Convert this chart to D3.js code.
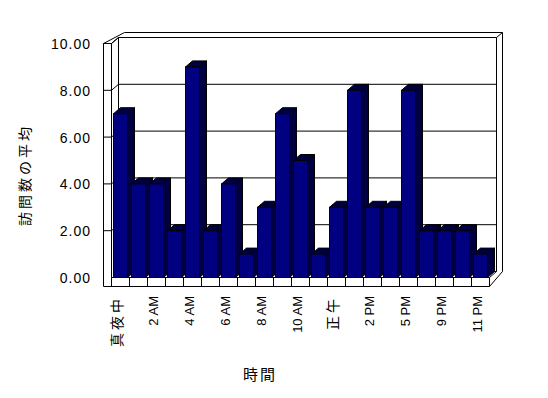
<!DOCTYPE html>
<html>
<head>
<meta charset="utf-8">
<script src="https://cdn.jsdelivr.net/npm/d3@7"></script>
<style>
  body { margin: 0; background: #fff; }
  text { font-family: "Liberation Sans", Arial, "Noto Sans CJK JP", sans-serif; fill: #000; }
  .frame { fill: none; stroke: #000; stroke-width: 1; }
</style>
</head>
<body>
<div id="chart"></div>
<script>
// hourly categories (one hour has no data, so it is missing)
const hours = ["真夜中", "1 AM", "2 AM", "3 AM", "4 AM", "5 AM", "6 AM", "7 AM",
  "8 AM", "9 AM", "10 AM", "11 AM", "正午", "1 PM", "2 PM", "3 PM", "5 PM",
  "7 PM", "9 PM", "10 PM", "11 PM"];
const visits = [7, 4, 4, 2, 9, 2, 4, 1, 3, 7, 5, 1, 3, 8, 3, 3, 8, 2, 2, 2, 1];
const yTicks = [0, 2, 4, 6, 8, 10];
const yTitle = "訪問数の平均";
const xTitle = "時間";

const width = 548, height = 398;
const dx = 7, dy = -6;      // depth of the 3d box
const wall = 8;             // thickness of the side wall

const x = d3.scaleBand().domain(hours).range([111, 489]);
const y = d3.scaleLinear().domain([0, 10]).range([277, 43]);

const svg = d3.select("#chart").append("svg")
  .attr("width", width)
  .attr("height", height);

// dithered dark fill for the bar sides
const pat = svg.append("defs").append("pattern")
  .attr("id", "dither")
  .attr("patternUnits", "userSpaceOnUse")
  .attr("width", 2).attr("height", 2);
pat.append("rect").attr("width", 2).attr("height", 2).attr("fill", "#000080");
pat.append("rect").attr("width", 1).attr("height", 1).attr("fill", "#000");
pat.append("rect").attr("x", 1).attr("y", 1).attr("width", 1).attr("height", 1).attr("fill", "#000");

const x0 = x.range()[0], x1 = x.range()[1];
const yb = y(0), yt = y(10);
const line = d3.line();
const frame = svg.append("g").attr("class", "frame").attr("transform", "translate(0.5,0.5)");

// outer silhouette of walls and floor
frame.append("path").attr("d", line([
  [x0 - wall, yt], [x0 + 2 * dx - 1, yt + 2 * dy + 1], [x1 + 2 * dx - 1, yt + 2 * dy + 1],
  [x1 + 2 * dx - 1, yb + dy - 2 + 2], [x1, yb + 9], [x0 - wall, yb + 9], [x0 - wall, yt]
]));
// side wall front face and top
frame.append("path").attr("d", line([[x0, yb], [x0, yt], [x0 - wall, yt]]));
frame.append("path").attr("d", line([[x0, yt], [x0 + dx, yt + dy]]));
// back wall inner face
frame.append("path").attr("d", line([
  [x0 + dx, yb + dy], [x0 + dx, yt + dy], [x1 + dx, yt + dy], [x1 + dx, yb + dy]
]));
frame.append("path").attr("d", line([[x1 + dx, yt + dy], [x1 + 2 * dx - 1, yt + 2 * dy + 1]]));
// floor
frame.append("path").attr("d", line([[x0, yb], [x1, yb], [x1 + dx, yb + dy]]));
frame.append("path").attr("d", line([[x0 + dx, yb + dy], [x1 + dx, yb + dy]]));
frame.append("path").attr("d", line([[x1, yb], [x1, yb + 9]]));

// category dividers on the floor front
frame.selectAll(".div")
  .data(hours)
  .join("path")
  .attr("d", d => line([[x(d), yb], [x(d), yb + 9]]));

// gridlines: back wall, side wall and ticks on its front face
const grid = yTicks.filter(v => v > 0);
frame.selectAll(".grid")
  .data(grid)
  .join("path")
  .attr("d", v => line([
    [x0 - wall, y(v)], [x0, y(v)], [x0 + dx, y(v) + dy], [x1 + dx, y(v) + dy]
  ]));

// bars, drawn left to right so each covers its neighbour's side
const bars = svg.append("g").attr("transform", "translate(0.5,0.5)");
hours.forEach((h, i) => {
  const v = visits[i];
  const bx0 = x(h) + 2, bx1 = x(h) + 16, by = y(v);
  const g = bars.append("g").attr("stroke", "#000").attr("stroke-width", 1);
  g.append("path")
    .attr("fill", "url(#dither)")
    .attr("d", line([[bx1, by], [bx1 + dx, by + dy], [bx1 + dx, yb + dy], [bx1, yb]]) + "Z");
  g.append("path")
    .attr("fill", "url(#dither)")
    .attr("d", line([[bx0, by], [bx0 + dx, by + dy], [bx1 + dx, by + dy], [bx1, by]]) + "Z");
  g.append("rect")
    .attr("fill", "#000080")
    .attr("x", bx0).attr("y", by)
    .attr("width", bx1 - bx0).attr("height", yb - by);
});

// y axis labels
const yAxis = d3.axisLeft(y)
  .tickValues(yTicks)
  .tickFormat(d3.format(".2f"))
  .tickSize(0)
  .tickPadding(12);
svg.append("g")
  .attr("transform", "translate(" + (x0 - wall) + ",1)")
  .call(yAxis)
  .call(g => g.select(".domain").remove())
  .selectAll("text")
  .attr("font-size", 14)
  .attr("letter-spacing", "1px")
  .attr("font-family", null);

// x axis labels, every second hour, rotated
const xAxis = d3.axisBottom(x)
  .tickFormat((d, i) => i % 2 === 0 ? d : "")
  .tickSize(0)
  .tickPadding(0);
svg.append("g")
  .attr("transform", "translate(-3," + (yb + 19) + ")")
  .call(xAxis)
  .call(g => g.select(".domain").remove())
  .selectAll("text")
  .attr("font-family", null)
  .attr("font-size", d => /[A-Z]/.test(d) ? 13 : 14)
  .attr("letter-spacing", d => /[A-Z]/.test(d) ? "0px" : "3px")
  .attr("text-anchor", "end")
  .attr("y", 0)
  .attr("dy", "0.35em")
  .attr("transform", "rotate(-90)");

// axis titles
svg.append("text")
  .attr("transform", "translate(25,175) rotate(-90)")
  .attr("text-anchor", "middle")
  .attr("dy", "0.35em")
  .attr("font-size", 14)
  .attr("letter-spacing", "3px")
  .text(yTitle);

svg.append("text")
  .attr("x", 260)
  .attr("y", 375)
  .attr("text-anchor", "middle")
  .attr("dy", "0.35em")
  .attr("font-size", 15)
  .attr("letter-spacing", "2px")
  .text(xTitle);
</script>
</body>
</html>
